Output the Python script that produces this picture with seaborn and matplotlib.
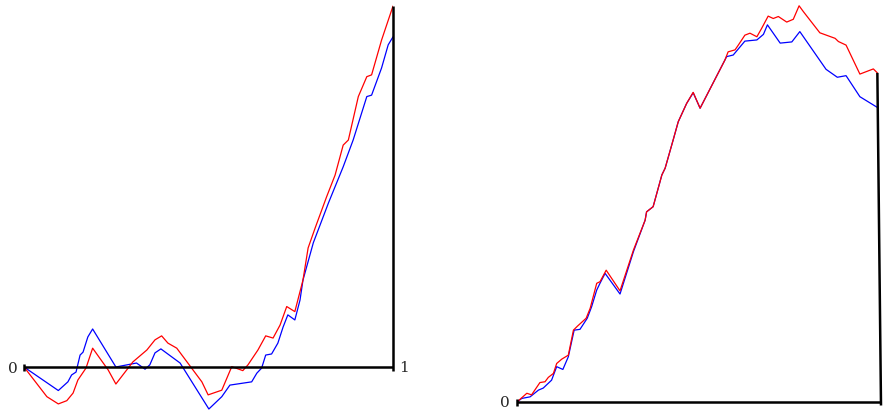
import numpy as np
import pandas as pd
import matplotlib
matplotlib.use("Agg")
import matplotlib.pyplot as plt
import seaborn as sns

# ── Data ──
# left panel: x runs 0..1, y in units where red ends near 1
left_blue_x = [0.0, 0.093, 0.119, 0.129, 0.141, 0.152, 0.160, 0.173, 0.186, 0.249,
               0.305, 0.328, 0.341, 0.355, 0.371, 0.423, 0.501, 0.536, 0.558, 0.617,
               0.631, 0.644, 0.655, 0.671, 0.688, 0.702, 0.715, 0.734, 0.748, 0.756,
               0.784, 0.825, 0.865, 0.892, 0.929, 0.942, 0.969, 0.987, 1.0]
left_blue_y = [0.0, -0.065, -0.041, -0.022, -0.014, 0.033, 0.041, 0.083, 0.105, 0.0,
               0.011, -0.006, 0.006, 0.039, 0.050, 0.011, -0.116, -0.082, -0.050, -0.041,
               -0.017, -0.003, 0.033, 0.036, 0.066, 0.110, 0.144, 0.130, 0.185, 0.240,
               0.343, 0.453, 0.553, 0.627, 0.747, 0.751, 0.826, 0.890, 0.912]
left_red_x = [0.0, 0.062, 0.093, 0.116, 0.133, 0.146, 0.168, 0.186, 0.228, 0.249,
              0.295, 0.333, 0.355, 0.373, 0.390, 0.414, 0.482, 0.499, 0.536, 0.563,
              0.593, 0.607, 0.634, 0.655, 0.675, 0.694, 0.712, 0.734, 0.756, 0.770,
              0.789, 0.820, 0.843, 0.865, 0.879, 0.906, 0.929, 0.942, 0.969, 1.0]
left_red_y = [0.0, -0.082, -0.102, -0.093, -0.072, -0.036, -0.003, 0.052, -0.008, -0.047,
              0.014, 0.047, 0.075, 0.086, 0.066, 0.052, -0.041, -0.077, -0.064, 0.001,
              -0.010, 0.006, 0.047, 0.086, 0.080, 0.116, 0.167, 0.153, 0.240, 0.329,
              0.384, 0.470, 0.530, 0.613, 0.627, 0.747, 0.802, 0.807, 0.903, 0.997]

# right panel
right_blue_x = [0.0, 0.013, 0.036, 0.059, 0.072, 0.095, 0.109, 0.126, 0.141, 0.157,
                0.173, 0.193, 0.205, 0.219, 0.228, 0.242, 0.283, 0.320, 0.352, 0.356,
                0.374, 0.398, 0.407, 0.429, 0.443, 0.466, 0.484, 0.503, 0.576, 0.594,
                0.626, 0.659, 0.677, 0.688, 0.723, 0.755, 0.777, 0.849, 0.880, 0.904,
                0.942, 0.990]
right_blue_y = [0.0, 0.009, 0.013, 0.030, 0.035, 0.055, 0.089, 0.082, 0.114, 0.181,
                0.183, 0.211, 0.240, 0.282, 0.299, 0.324, 0.272, 0.379, 0.458, 0.479,
                0.492, 0.572, 0.589, 0.660, 0.706, 0.752, 0.779, 0.740, 0.870, 0.874,
                0.909, 0.912, 0.926, 0.950, 0.904, 0.907, 0.933, 0.838, 0.818, 0.822,
                0.769, 0.742]
right_red_x = [0.0, 0.027, 0.040, 0.063, 0.077, 0.086, 0.100, 0.109, 0.123, 0.141,
               0.155, 0.166, 0.190, 0.201, 0.219, 0.228, 0.245, 0.283, 0.320, 0.352,
               0.356, 0.374, 0.398, 0.407, 0.429, 0.443, 0.466, 0.484, 0.503, 0.571,
               0.580, 0.599, 0.608, 0.626, 0.640, 0.659, 0.672, 0.690, 0.704, 0.718,
               0.741, 0.759, 0.775, 0.787, 0.832, 0.874, 0.883, 0.904, 0.942, 0.979,
               0.990]
right_red_y = [0.0, 0.022, 0.018, 0.049, 0.051, 0.062, 0.072, 0.097, 0.108, 0.118,
               0.181, 0.191, 0.211, 0.236, 0.299, 0.303, 0.332, 0.280, 0.383, 0.458,
               0.479, 0.492, 0.572, 0.589, 0.660, 0.706, 0.752, 0.780, 0.740, 0.861,
               0.882, 0.887, 0.899, 0.924, 0.929, 0.920, 0.941, 0.972, 0.966, 0.971,
               0.957, 0.964, 0.998, 0.983, 0.930, 0.916, 0.908, 0.899, 0.826, 0.839,
               0.829]

left_labels = ["0", "1"]
right_labels = ["0"]

# ── Style ──
sns.set_style("white")
plt.rcParams["font.family"] = ["DejaVu Serif"]

fig = plt.figure(figsize=(8.9, 4.12), dpi=100)
ax1 = fig.add_axes([24 / 890, 0, 369 / 890, 1])
ax2 = fig.add_axes([517 / 890, 0, 364 / 890, 1])
ax1.set_xlim(0, 1)
ax1.set_ylim(-45 / 362, 367 / 362)
ax2.set_xlim(0, 1)
ax2.set_ylim(-10 / 397, 402 / 397)


def draw_panel(ax, bx, by, rx, ry, px_per_unit):
    sns.lineplot(x=bx, y=by, ax=ax, color="#0000ff", lw=0.9, sort=False,
                 estimator=None)
    sns.lineplot(x=rx, y=ry, ax=ax, color="#ff0000", lw=0.9, sort=False,
                 estimator=None)
    tick = 3.5 / px_per_unit
    kw = dict(color="black", lw=1.8, solid_capstyle="butt", clip_on=False)
    ax.plot([0, 1], [0, 0], **kw)
    ax.plot([0, 0], [-tick, tick], **kw)
    ax.plot([rx[-1], 1], [ry[-1], -tick], **kw)
    ax.axis("off")


draw_panel(ax1, left_blue_x, left_blue_y, left_red_x, left_red_y, 362)
draw_panel(ax2, right_blue_x, right_blue_y, right_red_x, right_red_y, 397)

ax1.text(-0.031, -0.016, left_labels[0], ha="center", va="baseline",
         fontsize=11, clip_on=False)
ax1.text(1.030, -0.013, left_labels[1], ha="center", va="baseline",
         fontsize=11, clip_on=False)
ax2.text(-0.033, -0.0134, right_labels[0], ha="center", va="baseline",
         fontsize=11, clip_on=False)

fig.savefig("out.png", dpi=100)
